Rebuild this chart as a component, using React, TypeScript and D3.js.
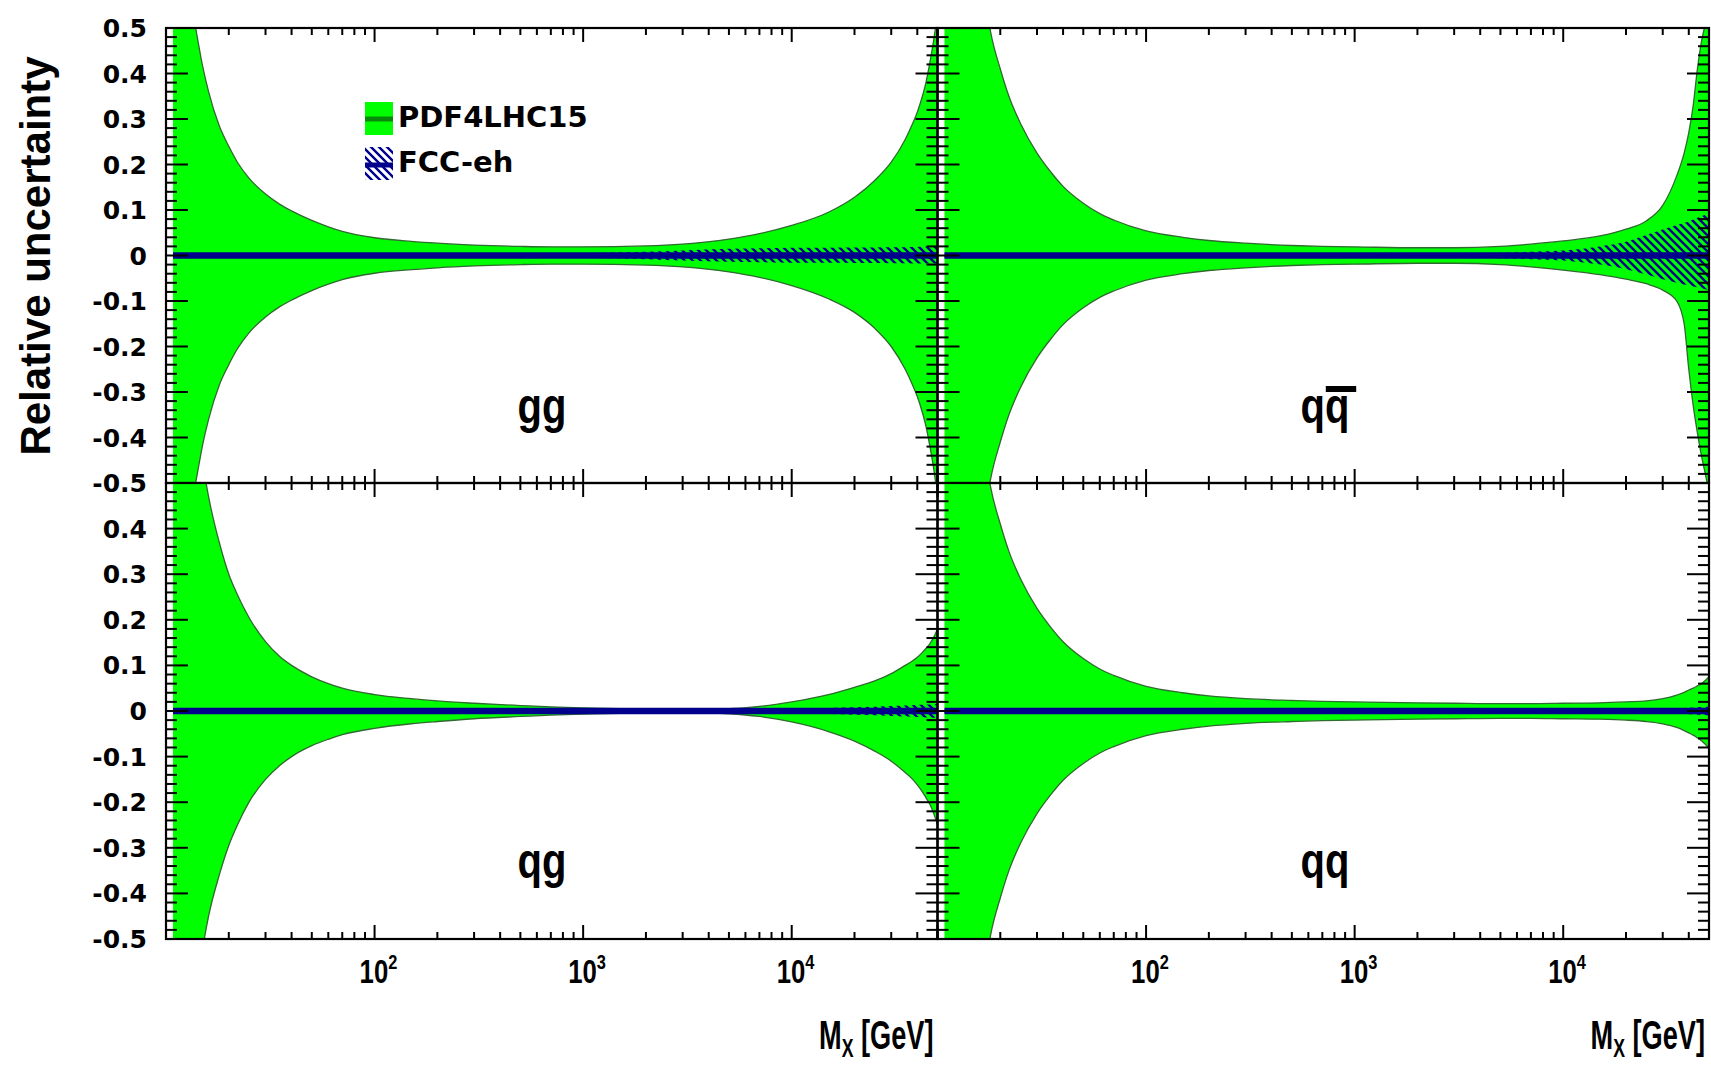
import React from 'react';
import * as d3 from 'd3';

// ---------- DATA ----------
const massGrid = [10.8, 12, 13, 14, 15, 16, 18, 20, 22, 25,
  30, 35, 40, 50, 60, 70, 100, 150, 200, 300,
  500, 700, 1000, 2000, 3000, 5000, 7000, 10000, 15000, 20000,
  25000, 30000, 35000, 38000, 40000, 42000, 44000, 46000, 48000, 50000];

const ggUpper = [0.9, 0.68, 0.57, 0.49, 0.415, 0.36, 0.285, 0.24, 0.205, 0.17,
  0.135, 0.113, 0.098, 0.077, 0.063, 0.053, 0.039, 0.031, 0.027, 0.023,
  0.02, 0.019, 0.019, 0.021, 0.025, 0.036, 0.048, 0.066, 0.095, 0.128,
  0.165, 0.205, 0.255, 0.29, 0.315, 0.345, 0.38, 0.425, 0.475, 0.53];
const ggLower = [-0.9, -0.68, -0.57, -0.49, -0.415, -0.36, -0.285, -0.24, -0.205, -0.17,
  -0.135, -0.113, -0.098, -0.077, -0.063, -0.053, -0.039, -0.031, -0.027, -0.023,
  -0.02, -0.019, -0.019, -0.021, -0.025, -0.036, -0.048, -0.066, -0.095, -0.125,
  -0.16, -0.2, -0.25, -0.285, -0.31, -0.34, -0.375, -0.42, -0.47, -0.53];
const ggFccUp = [0.004, 0.004, 0.004, 0.004, 0.004, 0.004, 0.004, 0.004, 0.004, 0.004,
  0.004, 0.004, 0.004, 0.004, 0.004, 0.004, 0.004, 0.004, 0.004, 0.004,
  0.004, 0.0045, 0.005, 0.008, 0.011, 0.015, 0.016, 0.017, 0.017, 0.0175,
  0.0175, 0.018, 0.018, 0.0185, 0.0185, 0.019, 0.019, 0.019, 0.019, 0.019];
const ggFccLow = [-0.004, -0.004, -0.004, -0.004, -0.004, -0.004, -0.004, -0.004, -0.004, -0.004,
  -0.004, -0.004, -0.004, -0.004, -0.004, -0.004, -0.004, -0.004, -0.004, -0.004,
  -0.004, -0.0045, -0.005, -0.008, -0.011, -0.014, -0.015, -0.016, -0.016, -0.0165,
  -0.0165, -0.017, -0.017, -0.0175, -0.0175, -0.0175, -0.0175, -0.0175, -0.0175, -0.0175];

const qqbarUpper = [1.6, 1.25, 1.05, 0.9, 0.76, 0.65, 0.49, 0.41, 0.35, 0.29,
  0.225, 0.183, 0.152, 0.115, 0.092, 0.078, 0.054, 0.04, 0.033, 0.027,
  0.022, 0.02, 0.019, 0.017, 0.017, 0.02, 0.025, 0.032, 0.043, 0.058,
  0.076, 0.11, 0.175, 0.225, 0.27, 0.33, 0.41, 0.47, 0.51, 0.56];
const qqbarLower = [-1.6, -1.25, -1.05, -0.9, -0.76, -0.65, -0.49, -0.41, -0.35, -0.29,
  -0.225, -0.183, -0.152, -0.115, -0.092, -0.078, -0.054, -0.04, -0.033, -0.027,
  -0.022, -0.02, -0.019, -0.017, -0.017, -0.02, -0.025, -0.032, -0.042, -0.052,
  -0.062, -0.076, -0.1, -0.15, -0.25, -0.33, -0.39, -0.44, -0.48, -0.52];
const qqbarFccUp = [0.004, 0.004, 0.004, 0.004, 0.004, 0.004, 0.004, 0.004, 0.004, 0.004,
  0.004, 0.004, 0.004, 0.004, 0.004, 0.004, 0.004, 0.004, 0.004, 0.004,
  0.004, 0.004, 0.004, 0.004, 0.004, 0.006, 0.008, 0.011, 0.02, 0.03,
  0.045, 0.057, 0.067, 0.072, 0.075, 0.079, 0.083, 0.086, 0.09, 0.093];
const qqbarFccLow = [-0.004, -0.004, -0.004, -0.004, -0.004, -0.004, -0.004, -0.004, -0.004, -0.004,
  -0.004, -0.004, -0.004, -0.004, -0.004, -0.004, -0.004, -0.004, -0.004, -0.004,
  -0.004, -0.004, -0.004, -0.004, -0.004, -0.006, -0.008, -0.011, -0.02, -0.03,
  -0.042, -0.052, -0.06, -0.064, -0.066, -0.068, -0.07, -0.072, -0.074, -0.076];

const qgUpper = [1.2, 0.92, 0.76, 0.64, 0.545, 0.47, 0.37, 0.3, 0.255, 0.205,
  0.152, 0.12, 0.1, 0.075, 0.06, 0.05, 0.036, 0.027, 0.022, 0.017,
  0.012, 0.009, 0.007, 0.004, 0.003, 0.005, 0.01, 0.02, 0.036, 0.052,
  0.066, 0.082, 0.1, 0.11, 0.118, 0.127, 0.137, 0.148, 0.162, 0.18];
const qgLower = [-1.2, -0.9, -0.73, -0.61, -0.52, -0.45, -0.36, -0.295, -0.25, -0.2,
  -0.15, -0.12, -0.1, -0.076, -0.062, -0.052, -0.038, -0.028, -0.023, -0.017,
  -0.012, -0.009, -0.007, -0.004, -0.003, -0.006, -0.012, -0.024, -0.045, -0.066,
  -0.088, -0.11, -0.135, -0.15, -0.162, -0.175, -0.19, -0.205, -0.225, -0.25];
const qgFccUp = [0.004, 0.004, 0.004, 0.004, 0.004, 0.004, 0.004, 0.004, 0.004, 0.004,
  0.004, 0.004, 0.004, 0.004, 0.004, 0.004, 0.004, 0.004, 0.004, 0.004,
  0.004, 0.004, 0.004, 0.004, 0.004, 0.004, 0.0045, 0.005, 0.0065, 0.008,
  0.0095, 0.011, 0.012, 0.0125, 0.013, 0.0135, 0.014, 0.0145, 0.015, 0.015];
const qgFccLow = [-0.004, -0.004, -0.004, -0.004, -0.004, -0.004, -0.004, -0.004, -0.004, -0.004,
  -0.004, -0.004, -0.004, -0.004, -0.004, -0.004, -0.004, -0.004, -0.004, -0.004,
  -0.004, -0.004, -0.004, -0.004, -0.004, -0.004, -0.0045, -0.005, -0.0065, -0.008,
  -0.0095, -0.011, -0.012, -0.0125, -0.013, -0.0135, -0.014, -0.0145, -0.015, -0.015];

const qqUpper = [1.6, 1.25, 1.05, 0.9, 0.76, 0.65, 0.49, 0.41, 0.35, 0.29,
  0.225, 0.183, 0.152, 0.115, 0.092, 0.078, 0.054, 0.04, 0.033, 0.027,
  0.023, 0.021, 0.02, 0.018, 0.017, 0.016, 0.016, 0.017, 0.018, 0.02,
  0.022, 0.027, 0.035, 0.041, 0.046, 0.05, 0.055, 0.06, 0.067, 0.075];
const qqLower = [-1.6, -1.25, -1.05, -0.9, -0.76, -0.65, -0.49, -0.41, -0.35, -0.29,
  -0.225, -0.183, -0.152, -0.115, -0.092, -0.078, -0.054, -0.04, -0.033, -0.027,
  -0.023, -0.021, -0.02, -0.018, -0.017, -0.016, -0.016, -0.017, -0.018, -0.02,
  -0.023, -0.028, -0.036, -0.043, -0.048, -0.053, -0.059, -0.065, -0.073, -0.082];
const qqFccUp = [0.004, 0.004, 0.004, 0.004, 0.004, 0.004, 0.004, 0.004, 0.004, 0.004,
  0.004, 0.004, 0.004, 0.004, 0.004, 0.004, 0.004, 0.004, 0.004, 0.004,
  0.004, 0.004, 0.004, 0.004, 0.004, 0.004, 0.004, 0.004, 0.004, 0.004,
  0.0045, 0.005, 0.006, 0.0065, 0.007, 0.0075, 0.008, 0.0085, 0.009, 0.01];
const qqFccLow = [-0.004, -0.004, -0.004, -0.004, -0.004, -0.004, -0.004, -0.004, -0.004, -0.004,
  -0.004, -0.004, -0.004, -0.004, -0.004, -0.004, -0.004, -0.004, -0.004, -0.004,
  -0.004, -0.004, -0.004, -0.004, -0.004, -0.004, -0.004, -0.004, -0.004, -0.004,
  -0.0045, -0.005, -0.006, -0.0065, -0.007, -0.0075, -0.008, -0.0085, -0.009, -0.01];

const yTickLabelsTop = [0.5, 0.4, 0.3, 0.2, 0.1, 0, -0.1, -0.2, -0.3, -0.4, -0.5];
const yTickLabelsBottom = [0.4, 0.3, 0.2, 0.1, 0, -0.1, -0.2, -0.3, -0.4, -0.5];
const xTickExponents = [2, 3, 4];
const legendLabels = ['PDF4LHC15', 'FCC-eh'];
const yTitle = 'Relative uncertainty';

// ---------- LAYOUT ----------
const W = 1711;
const H = 1068;
const colX = [
  [166, 937.5],
  [937.5, 1709],
];
const rowY = [
  [28, 483],
  [483, 939],
];
const labelCenterX = [542, 1325];
const FONT = '"Liberation Sans", Arial, Helvetica, sans-serif';
const WIDE = '"DejaVu Sans", Verdana, sans-serif';
const GREEN = '#00ff00';
const NAVY = '#00008c';

type Panel = {
  key: string;
  col: number;
  row: number;
  up: number[];
  lo: number[];
  fu: number[];
  fl: number[];
};

const panels: Panel[] = [
  { key: 'gg', col: 0, row: 0, up: ggUpper, lo: ggLower, fu: ggFccUp, fl: ggFccLow },
  { key: 'qqbar', col: 1, row: 0, up: qqbarUpper, lo: qqbarLower, fu: qqbarFccUp, fl: qqbarFccLow },
  { key: 'qg', col: 0, row: 1, up: qgUpper, lo: qgLower, fu: qgFccUp, fl: qgFccLow },
  { key: 'qq', col: 1, row: 1, up: qqUpper, lo: qqLower, fu: qqFccUp, fl: qqFccLow },
];

function PanelView({ p }: { p: Panel }) {
  const [x0, x1] = colX[p.col];
  const [y0, y1] = rowY[p.row];
  const x = d3.scaleLog().domain([10, 50000]).range([x0, x1]);
  const y = d3.scaleLinear().domain([-0.5, 0.5]).range([y1, y0]);
  const idx = d3.range(massGrid.length);

  const band = d3
    .area<number>()
    .x((i) => x(massGrid[i]))
    .y0((i) => y(p.lo[i]))
    .y1((i) => y(p.up[i]))
    .curve(d3.curveMonotoneX);
  const upLine = d3.line<number>().x((i) => x(massGrid[i])).y((i) => y(p.up[i])).curve(d3.curveMonotoneX);
  const loLine = d3.line<number>().x((i) => x(massGrid[i])).y((i) => y(p.lo[i])).curve(d3.curveMonotoneX);
  const fcc = d3
    .area<number>()
    .x((i) => x(massGrid[i]))
    .y0((i) => y(p.fl[i]))
    .y1((i) => y(p.fu[i]))
    .curve(d3.curveMonotoneX);
  const center = d3.line<number>().x((i) => x(massGrid[i])).y(() => y(0));

  const clipId = `clip-${p.key}`;
  const xt = x.ticks();
  const yt = y.ticks(50);
  const isMajorX = (v: number) => Math.abs(Math.log10(v) - Math.round(Math.log10(v))) < 1e-9;
  const isMajorY = (v: number) => Math.abs(v * 10 - Math.round(v * 10)) < 1e-6;
  const cx = labelCenterX[p.col];
  const baseY = y0 + 395;

  return (
    <g>
      <defs>
        <clipPath id={clipId}>
          <rect x={x0} y={y0} width={x1 - x0} height={y1 - y0} />
        </clipPath>
      </defs>
      <g clipPath={`url(#${clipId})`}>
        <path d={band(idx) || ''} fill={GREEN} />
        <path d={upLine(idx) || ''} fill="none" stroke="#2f6a2f" strokeWidth={1.3} />
        <path d={loLine(idx) || ''} fill="none" stroke="#2f6a2f" strokeWidth={1.3} />
        <path d={fcc(idx) || ''} fill="url(#hatch)" />
        <path d={center(idx) || ''} fill="none" stroke={NAVY} strokeWidth={6.5} />
      </g>
      {/* ticks */}
      <g stroke="#000" strokeWidth={2}>
        {xt.map((v, i) => {
          const len = isMajorX(v) ? 14 : 7;
          const xx = x(v);
          return (
            <g key={'xt' + i}>
              <line x1={xx} x2={xx} y1={y1} y2={y1 - len} />
              <line x1={xx} x2={xx} y1={y0} y2={y0 + len} />
            </g>
          );
        })}
        {yt.map((v, i) => {
          const len = isMajorY(v) ? 22 : 11;
          const yy = y(v);
          return (
            <g key={'yt' + i}>
              <line x1={x0} x2={x0 + len} y1={yy} y2={yy} />
              <line x1={x1} x2={x1 - len} y1={yy} y2={yy} />
            </g>
          );
        })}
      </g>
      <rect x={x0} y={y0} width={x1 - x0} height={y1 - y0} fill="none" stroke="#000" strokeWidth={2.2} />
      {/* panel label (narrow bold face) */}
      <g transform={`translate(${cx},${baseY}) scale(0.8,1)`}>
        <text x={0} y={0} fontFamily={FONT} fontWeight="bold" fontSize={50} textAnchor="middle">
          {p.key === 'qqbar' ? 'qq' : p.key}
        </text>
        {p.key === 'qqbar' && <rect x={1} y={-37} width={38} height={6} fill="#000" />}
      </g>
    </g>
  );
}

export default function App() {
  const yLeft = rowY.map((r) => d3.scaleLinear().domain([-0.5, 0.5]).range([r[1], r[0]]));
  const xBottom = colX.map((c) => d3.scaleLog().domain([10, 50000]).range(c));
  const fmt = (v: number) => (v === 0 ? '0' : d3.format('.1f')(v).replace('\u2212', '-'));

  return (
    <svg width={W} height={H} style={{ position: 'absolute', left: 0, top: 0, background: '#fff' }} xmlns="http://www.w3.org/2000/svg">
      <defs>
        <pattern id="hatch" patternUnits="userSpaceOnUse" width={8} height={8}>
          <path d="M-2,-2 L10,10 M-2,6 L2,10 M6,-2 L10,2" stroke={NAVY} strokeWidth={2.4} />
        </pattern>
      </defs>
      <rect x={0} y={0} width={W} height={H} fill="#fff" />
      {panels.map((p) => (
        <PanelView key={p.key} p={p} />
      ))}

      {/* y tick labels */}
      <g fontFamily={WIDE} fontWeight="bold" fontSize={25} textAnchor="end">
        {yTickLabelsTop.map((v, i) => (
          <text key={'yl0' + i} x={147} y={yLeft[0](v)} dy="0.36em">
            {fmt(v)}
          </text>
        ))}
        {yTickLabelsBottom.map((v, i) => (
          <text key={'yl1' + i} x={147} y={yLeft[1](v)} dy="0.36em">
            {fmt(v)}
          </text>
        ))}
      </g>

      {/* x tick labels (narrow bold face) */}
      {xBottom.map((xs, c) =>
        xTickExponents.map((e) => (
          <g key={`xl${c}-${e}`} transform={`translate(${xs(Math.pow(10, e)) - 15},983) scale(0.78,1)`}>
            <text x={0} y={0} fontFamily={FONT} fontWeight="bold" fontSize={33}>
              10
              <tspan fontSize={21} dy={-14}>
                {e}
              </tspan>
            </text>
          </g>
        ))
      )}

      {/* x axis titles */}
      {colX.map((c, i) => (
        <g key={'xtitle' + i} transform={`translate(${c[1] - 4},1049) scale(0.68,1)`}>
          <text x={0} y={0} fontFamily={FONT} fontWeight="bold" fontSize={40} textAnchor="end">
            M
            <tspan fontSize={26} dy={8}>
              X
            </tspan>
            <tspan dy={-8}> [GeV]</tspan>
          </text>
        </g>
      ))}

      {/* y axis title */}
      <text transform="translate(50,256) rotate(-90)" fontFamily={FONT} fontWeight="bold" fontSize={42} textAnchor="middle">
        {yTitle}
      </text>

      {/* legend */}
      <g>
        <rect x={365} y={102} width={28} height={33} fill={GREEN} />
        <line x1={365} x2={393} y1={119} y2={119} stroke="#0a8a0a" strokeWidth={5} />
        <rect x={365} y={147} width={28} height={33} fill="url(#hatch)" />
        <line x1={365} x2={393} y1={165} y2={165} stroke={NAVY} strokeWidth={5} />
        <text x={398} y={127} fontFamily={WIDE} fontWeight="bold" fontSize={29}>
          {legendLabels[0]}
        </text>
        <text x={398} y={172} fontFamily={WIDE} fontWeight="bold" fontSize={29}>
          {legendLabels[1]}
        </text>
      </g>
    </svg>
  );
}
